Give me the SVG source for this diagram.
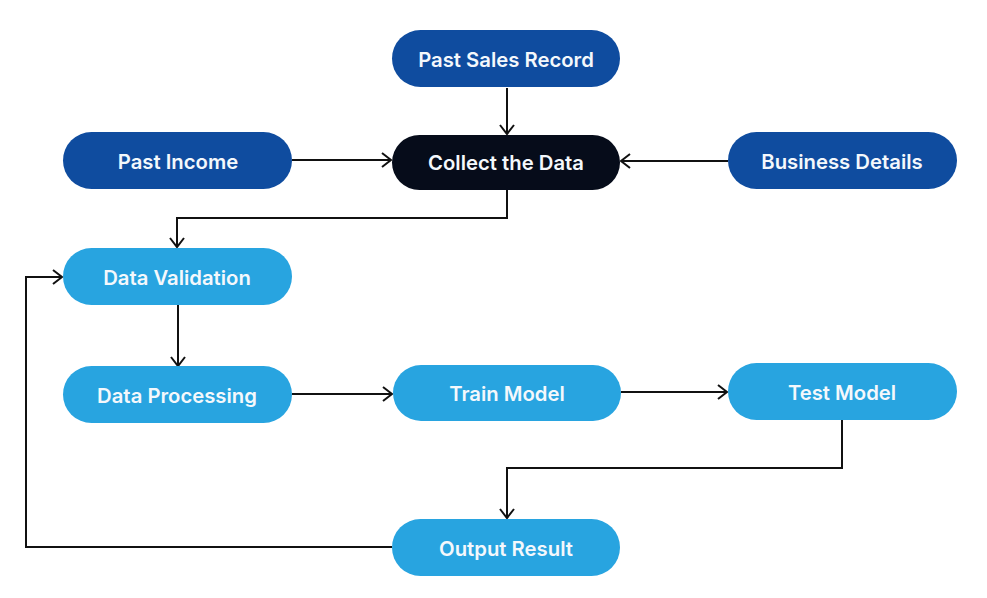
<svg xmlns="http://www.w3.org/2000/svg" width="987" height="598" viewBox="0 0 987 598">
<style>
.dark{fill:#0F4C9F}
.black{fill:#060C1A}
.light{fill:#28A4E0}
.lbl{font-family:Inter,"Liberation Sans",sans-serif;font-weight:600;font-size:20.3px;fill:#F4F8FC;text-anchor:middle;dominant-baseline:central}
.conn{fill:none;stroke:#111;stroke-width:2}
</style>
<defs>
<marker id="arr" markerUnits="userSpaceOnUse" markerWidth="14" markerHeight="16" refX="11" refY="8" orient="auto">
<path d="M2,1 L11,8 L2,15" fill="none" stroke="#111" stroke-width="2"/>
</marker>
</defs>
<rect width="987" height="598" fill="#fff"/>
<g id="connectors">
<path class="conn" d="M507,88 V134" marker-end="url(#arr)"/>
<path class="conn" d="M292,160 H391" marker-end="url(#arr)"/>
<path class="conn" d="M728,161 H621" marker-end="url(#arr)"/>
<path class="conn" d="M507,190 V218 H177 V247" marker-end="url(#arr)"/>
<path class="conn" d="M178,305 V366" marker-end="url(#arr)"/>
<path class="conn" d="M292,394 H392" marker-end="url(#arr)"/>
<path class="conn" d="M621,392 H727" marker-end="url(#arr)"/>
<path class="conn" d="M842,420 V468 H507 V518" marker-end="url(#arr)"/>
<path class="conn" d="M392,547 H26 V277 H62" marker-end="url(#arr)"/>
</g>
<g id="past-sales-record"><rect class="dark" x="392" y="30" width="228" height="57" rx="28.5"/><text class="lbl" x="506" y="59">Past Sales Record</text></g>
<g id="past-income"><rect class="dark" x="63" y="132" width="229" height="57" rx="28.5"/><text class="lbl" x="178" y="161">Past Income</text></g>
<g id="collect-data"><rect class="black" x="392" y="135" width="228" height="55" rx="27.5"/><text class="lbl" x="506" y="162">Collect the Data</text></g>
<g id="business-details"><rect class="dark" x="728" y="132" width="229" height="57" rx="28.5"/><text class="lbl" x="842" y="161">Business Details</text></g>
<g id="data-validation"><rect class="light" x="63" y="248" width="229" height="57" rx="28.5"/><text class="lbl" x="177" y="277">Data Validation</text></g>
<g id="data-processing"><rect class="light" x="63" y="366" width="229" height="57" rx="28.5"/><text class="lbl" x="177" y="395">Data Processing</text></g>
<g id="train-model"><rect class="light" x="393" y="365" width="228" height="56" rx="28"/><text class="lbl" x="507" y="393">Train Model</text></g>
<g id="test-model"><rect class="light" x="728" y="363" width="229" height="57" rx="28.5"/><text class="lbl" x="842" y="392">Test Model</text></g>
<g id="output-result"><rect class="light" x="392" y="519" width="228" height="57" rx="28.5"/><text class="lbl" x="506" y="548">Output Result</text></g>
</svg>
